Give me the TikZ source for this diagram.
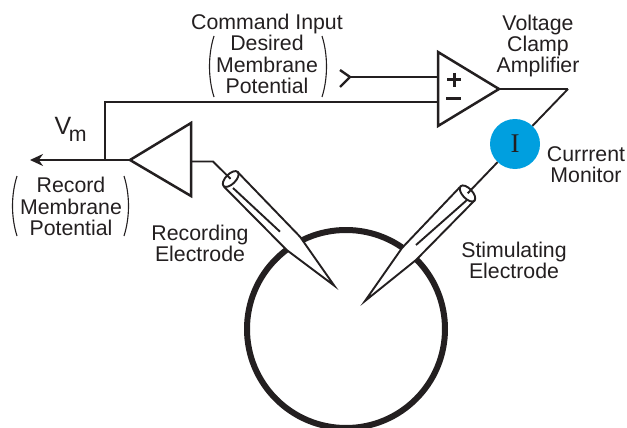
\documentclass[tikz,border=0pt]{standalone}
\usepackage{fontspec}
\usetikzlibrary{arrows.meta}
\setmainfont{Liberation Sans}
\newfontfamily\monfont{Liberation Serif}
\definecolor{ink}{HTML}{231F20}
\definecolor{monitor}{HTML}{009FDF}
\tikzset{
  wire/.style={draw=ink,line width=2.4pt,line join=miter},
  thinwire/.style={draw=ink,line width=1.9pt},
  paren/.style={draw=ink,line width=1.1pt},
  label/.style={text=ink,anchor=base,align=center,inner sep=0pt,font=\fontsize{21.3}{21.4}\selectfont},
  amp/.style={draw=ink,line width=2.5pt,fill=white,line join=miter},
  glass/.style={draw=ink,line width=1.9pt,line join=miter},
}
\begin{document}
\begin{tikzpicture}[x=1pt,y=-1pt]
\useasboundingbox (0,0) rectangle (627,428);
% cell
\node[circle,draw=ink,line width=6pt,minimum size=198pt,inner sep=0pt] (cell) at (346,329) {};
% coordinates
\coordinate (junction) at (105,160);
\coordinate (vmend) at (30,160);
\coordinate (ra) at (130,160);
\coordinate (rb) at (191,161.5);
\coordinate (rbend) at (213,161.5);
\coordinate (rcap) at (230.7,179);
\coordinate (vcin) at (438,102);
\coordinate (vcplus) at (438,77);
\coordinate (chev) at (350,77);
\coordinate (vcout) at (499,89);
\coordinate (vcbend) at (568,89);
\coordinate (scap) at (467.5,193.5);
% amplifiers
\draw[amp] (ra) -- (191,123) -- (191,196) -- cycle;
\draw[amp] (438,52) -- (438,126) -- (vcout) -- cycle;
\draw[wire] (junction) -- (105,102) -- (vcin);
\draw[wire,-{Stealth[length=13pt,width=12pt]}] (ra) -- (vmend);
\draw[wire] (340,70) -- (chev) -- (340,87);
\draw[wire] (chev) -- (vcplus);
\draw[wire] (vcout) -- (vcbend);
\draw[wire,line width=3pt] (447,80) -- (461,80) (454,73) -- (454,87);
\draw[wire,line width=3pt] (446,99) -- (461,99);
% recording electrode
\draw[thinwire] (rb) -- (rbend) -- (rcap);
\fill[white] (237.3,171.7) -- (300,236.7) -- (334.3,285.7) -- (286.7,250) -- (224,186.7) -- cycle;
\draw[glass] (237.3,171.7) -- (300,236.7) -- (334.3,285.7) -- (286.7,250) -- (224,186.7);
\draw[thinwire] (233,188) -- (280,231.7);
\draw[thinwire,rotate around={-45:(rcap)}] (rcap) ellipse [x radius=5,y radius=10];
% stimulating electrode
\node[circle,fill=monitor,minimum size=50pt,inner sep=0pt,text=ink,font=\monfont\fontsize{27}{27}\selectfont] (mon) at (515,144) {I};
\draw[thinwire] (vcbend) -- (mon);
\draw[thinwire] (mon) -- (scap);
\fill[white] (460,187) -- (402,248) -- (365,301) -- (416,260) -- (475,200) -- cycle;
\draw[glass] (460,187) -- (402,248) -- (365,301) -- (416,260) -- (475,200);
\draw[thinwire] (467,200) -- (416,245);
\draw[thinwire,rotate around={43:(scap)}] (scap) ellipse [x radius=5,y radius=10];
% labels
\node[label] (cmd) at (267,93.5) {Command Input\\Desired\\Membrane\\Potential};
\node[label] (rec) at (71,235.7) {Record\\Membrane\\Potential};
\node[label] (re) at (200,261.5) {Recording\\Electrode};
\node[label] (se) at (514,278.5) {Stimulating\\Electrode};
\node[label] (cm) at (586,182.5) {Currrent\\Monitor};
\node[label] (va) at (538,73) {Voltage\\Clamp\\Amplifier};
\node[label,anchor=base west,align=left] (vm) at (54.5,135) {{\fontsize{25}{25}\selectfont V}\kern-2.5pt\raisebox{-7pt}{m}};
% brackets
\draw[paren] (214,36) .. controls (208,55) and (208,78) .. (214,97);
\draw[paren] (322,36) .. controls (328,55) and (328,78) .. (322,97);
\draw[paren] (17,176) .. controls (11,195) and (11,217) .. (17,236);
\draw[paren] (124,176) .. controls (130,195) and (130,217) .. (124,236);
\end{tikzpicture}
\end{document}
